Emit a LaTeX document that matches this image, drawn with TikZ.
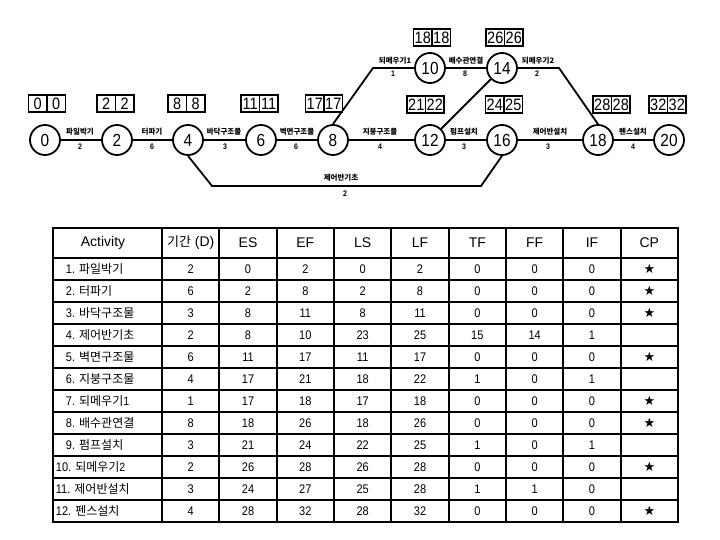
\documentclass[tikz,border=0pt]{standalone}
\usepackage{fontspec}
\setmainfont{Liberation Sans}
\newfontfamily\nar[FakeStretch=0.88]{Liberation Sans}
\newfontfamily\kr{Noto Sans CJK KR}
\newfontfamily\symf{DejaVu Sans}
\newcommand\pairbox[5]{%
  \node[cellbox] (#1a) at ({#2-9.25},#3) {#4};
  \node[cellbox, anchor=west] (#1b) at (#1a.east) {#5};}
\begin{document}
\begin{tikzpicture}[x=1pt,y=-1pt, line width=1.8pt,
  ev/.style={circle, draw, line width=1.8pt, minimum size=30pt, inner sep=0pt,
    font=\nar\fontsize{17.5}{17.5}\selectfont},
  cellbox/.style={draw, line width=1.6pt, minimum width=18.5pt, minimum height=17pt,
    inner sep=0pt, outer sep=0pt, font=\nar\fontsize{16.5}{16.5}\selectfont},
  lab/.style={font=\kr\bfseries\fontsize{7.5}{7.5}\selectfont, inner sep=0pt},
  dur/.style={font=\nar\bfseries\fontsize{8}{8}\selectfont, inner sep=0pt},
  hd/.style={font=\fontsize{14}{14}\selectfont, inner sep=0pt},
  tx/.style={font=\nar\fontsize{12.5}{12.5}\selectfont, inner sep=0pt},
  grid/.style={line width=1.7pt}]
\useasboundingbox (0,0) rectangle (720,540);

% events
\node[ev] (n0) at (45,140) {0};
\node[ev] (n2) at (117,140) {2};
\node[ev] (n4) at (188,140) {4};
\node[ev] (n6) at (261,140) {6};
\node[ev] (n8) at (333,140) {8};
\node[ev] (n10) at (430,68) {10};
\node[ev] (n14) at (502,68) {14};
\node[ev] (n12) at (430,140) {12};
\node[ev] (n16) at (502,140) {16};
\node[ev] (n18) at (598,140) {18};
\node[ev] (n20) at (669,140) {20};

% time boxes
\pairbox{b0}{47}{103.5}{0}{0}
\pairbox{b2}{115.5}{103.5}{2}{2}
\pairbox{b4}{186.5}{103.5}{8}{8}
\pairbox{b6}{259.5}{103.5}{11}{11}
\pairbox{b8}{324}{103.5}{17}{17}
\pairbox{b12}{425.5}{104.5}{21}{22}
\pairbox{b16}{504}{104.5}{24}{25}
\pairbox{b18}{611.5}{104.5}{28}{28}
\pairbox{b20}{667.5}{104.5}{32}{32}
\pairbox{b10}{432}{37.5}{18}{18}
\pairbox{b14}{504.5}{37.5}{26}{26}

% connectors
\coordinate (k1) at (373,68);
\coordinate (k2) at (559,68);
\coordinate (k3) at (212,186);
\coordinate (k4) at (481,186);
\draw (n0) -- (n2);
\draw (n2) -- (n4);
\draw (n4) -- (n6);
\draw (n6) -- (n8);
\draw (n8) -- (n12);
\draw (n12) -- (n16);
\draw (n16) -- (n18);
\draw (n18) -- (n20);
\draw (n8.north) -- (k1) -- (n10);
\draw (n10) -- (n14);
\draw (n14) -- (k2) -- (n18.north);
\draw (n12) -- (n14);
\draw (n4.south) -- (k3) -- (k4) -- (n16.south);

% edge labels
\node[lab] (l1) at (80,132) {파일박기};   \node[dur] (d1) at (80,147) {2};
\node[lab] (l2) at (152,132) {터파기};    \node[dur] (d2) at (152,147) {6};
\node[lab] (l3) at (224,132) {바닥구조물}; \node[dur] (d3) at (225,147) {3};
\node[lab] (l5) at (297,132) {벽면구조물}; \node[dur] (d5) at (296,147) {6};
\node[lab] (l6) at (380,132) {지붕구조물}; \node[dur] (d6) at (380,147) {4};
\node[lab] (l9) at (464,132) {펌프설치};  \node[dur] (d9) at (464,147) {3};
\node[lab] (l11) at (550,132) {제어반설치}; \node[dur] (d11) at (548,147) {3};
\node[lab] (l12) at (633,132) {펜스설치}; \node[dur] (d12) at (633,147) {4};
\node[lab] (l7) at (395,61) {되메우기1}; \node[dur] (d7) at (393,74) {1};
\node[lab] (l8) at (466,61) {배수관연결}; \node[dur] (d8) at (465,74) {8};
\node[lab] (l10) at (538,61) {되메우기2}; \node[dur] (d10) at (537,74) {2};
\node[lab] (l4) at (341,178) {제어반기초}; \node[dur] (d4) at (345,194) {2};

% table grid
\draw[grid] (53,228) rectangle (678,522);
\foreach \k in {0,...,8} {
  \draw[grid] ({162+57.333*\k},228) -- ({162+57.333*\k},522);
}
\draw[grid] (53,258) -- (678,258);
\foreach \r in {1,...,11} {
  \draw[grid] (53,{258+22*\r}) -- (678,{258+22*\r});
}

% header
\node[hd] (h0) at (103,243) {Activity};
\node[hd] (h1) at (190.7,243) {{\kr\fontsize{13}{13}\selectfont 기간} (D)};
\foreach \t [count=\k from 1] in {ES,EF,LS,LF,TF,FF,IF,CP} {
  \node[hd] (h\k x) at ({162+57.333*(\k+0.5)},243) {\t};
}

% rows
\foreach \i/\nm/\a/\b/\c/\d/\e/\f/\g/\h/\s in {
 1/{파일박기}/2/0/2/0/2/0/0/0/1,
 2/{터파기}/6/2/8/2/8/0/0/0/1,
 3/{바닥구조물}/3/8/11/8/11/0/0/0/1,
 4/{제어반기초}/2/8/10/23/25/15/14/1/0,
 5/{벽면구조물}/6/11/17/11/17/0/0/0/1,
 6/{지붕구조물}/4/17/21/18/22/1/0/1/0,
 7/{되메우기\nar 1}/1/17/18/17/18/0/0/0/1,
 8/{배수관연결}/8/18/26/18/26/0/0/0/1,
 9/{펌프설치}/3/21/24/22/25/1/0/1/0,
 10/{되메우기\nar 2}/2/26/28/26/28/0/0/0/1,
 11/{제어반설치}/3/24/27/25/28/1/1/0/0,
 12/{펜스설치}/4/28/32/28/32/0/0/0/1} {
  \pgfmathsetmacro\yy{258+22*(\i-0.5)}
  \pgfmathsetmacro\ax{\i<10 ? 65 : 55}
  \node[tx, anchor=west] (r\i n) at (\ax,\yy) {\i. {\kr\fontsize{12}{12}\selectfont\nm}};
  \node[tx] (r\i c1) at ({162+57.333*0.5},\yy) {\a};
  \node[tx] (r\i c2) at ({162+57.333*1.5},\yy) {\b};
  \node[tx] (r\i c3) at ({162+57.333*2.5},\yy) {\c};
  \node[tx] (r\i c4) at ({162+57.333*3.5},\yy) {\d};
  \node[tx] (r\i c5) at ({162+57.333*4.5},\yy) {\e};
  \node[tx] (r\i c6) at ({162+57.333*5.5},\yy) {\f};
  \node[tx] (r\i c7) at ({162+57.333*6.5},\yy) {\g};
  \node[tx] (r\i c8) at ({162+57.333*7.5},\yy) {\h};
  \ifnum\s=1
    \node[inner sep=0pt, font=\symf\fontsize{13}{13}\selectfont] (r\i c9) at ({162+57.333*8.5},\yy) {★};
  \fi
}
\end{tikzpicture}
\end{document}
